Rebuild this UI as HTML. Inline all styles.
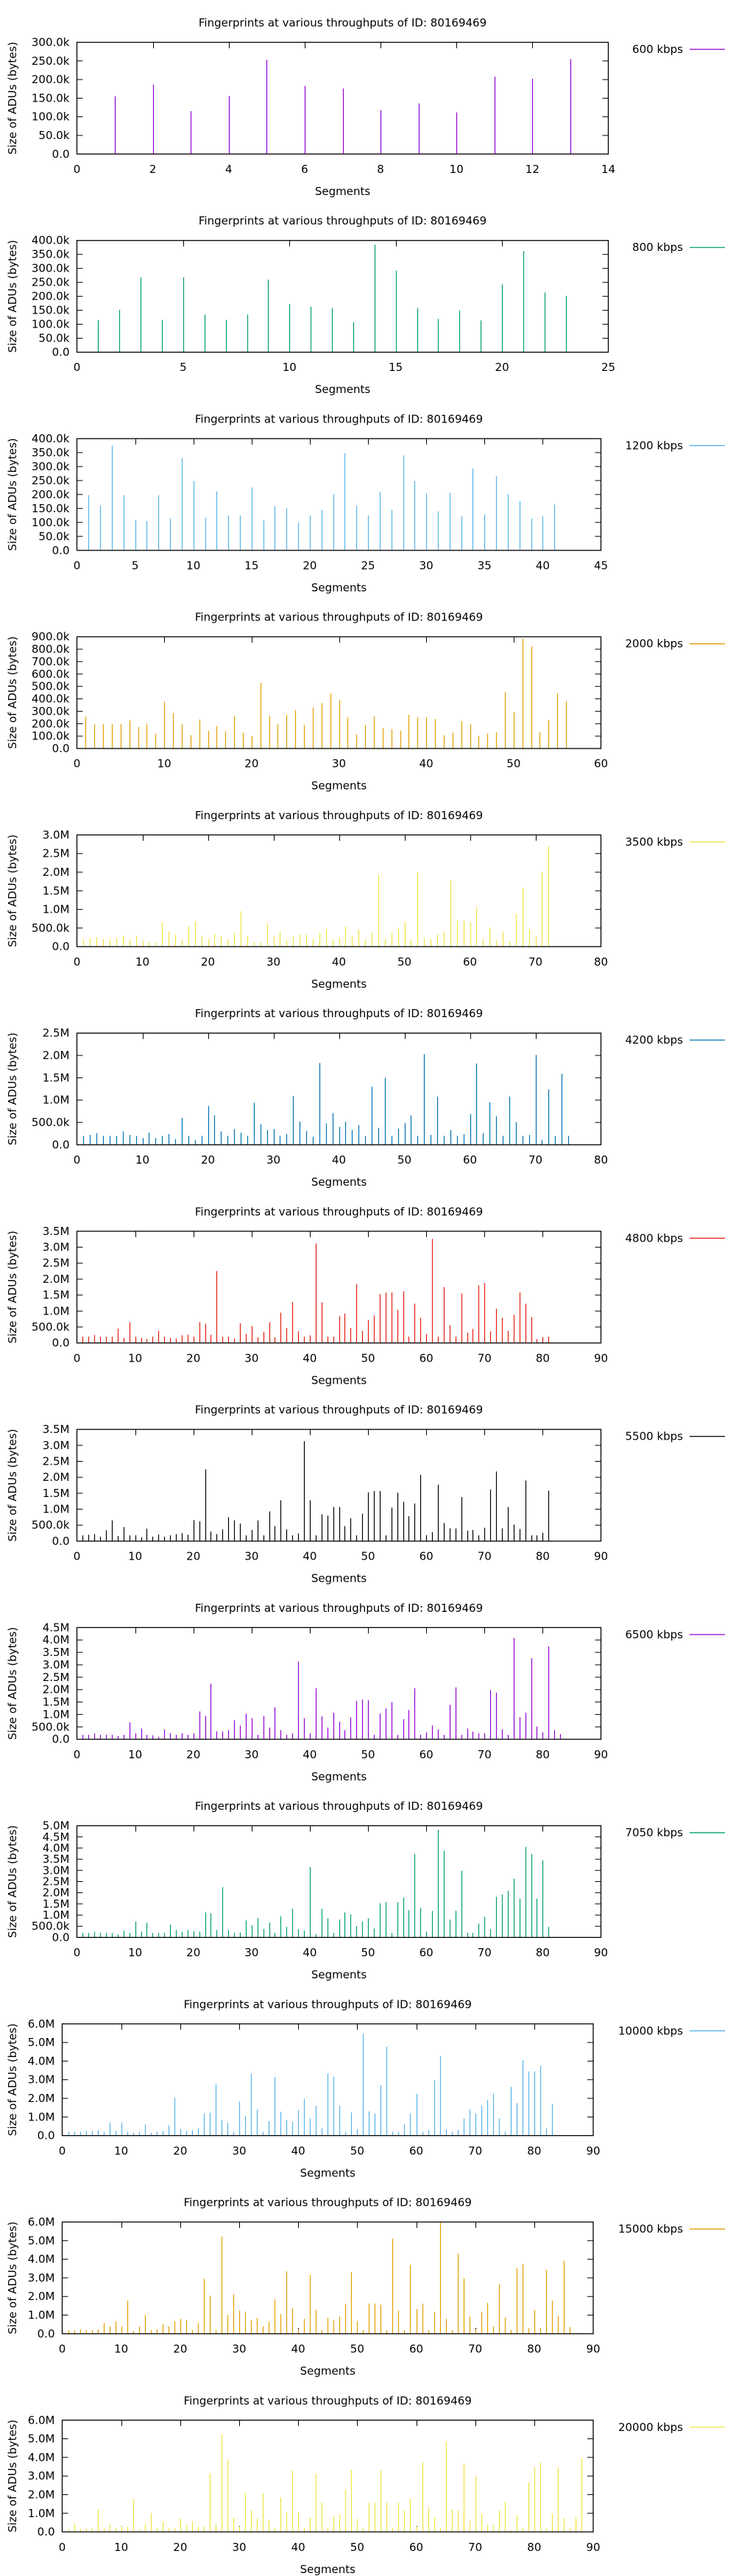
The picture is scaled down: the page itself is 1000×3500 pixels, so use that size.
<!DOCTYPE html>
<html><head><meta charset="utf-8">
<style>
html,body{margin:0;padding:0;background:#fff;}
svg{display:block;}
text{font-family:"DejaVu Sans","Liberation Sans",sans-serif;font-size:15px;fill:#000;}
</style></head>
<body>
<svg id="chart" width="1000" height="3500" xmlns="http://www.w3.org/2000/svg"></svg>
<script>
// ---- data (values in each panel's unit: k = thousands of bytes, M = millions) ----
const rates = ["600","800","1200","2000","3500","4200","4800","5500","6500","7050","10000","15000","20000"];
const colors = ["#9400d3","#009e73","#56b4e9","#e69f00","#f0e442","#0072b2","#e51e10","#000000","#9400d3","#009e73","#56b4e9","#e69f00","#f0e442"];
const xMaxes = [14,25,45,60,80,80,90,90,90,90,90,90,90];
const xSteps = [2,5,5,10,10,10,10,10,10,10,10,10,10];
const yMaxes = [300,400,400,900,3,2.5,3.5,3.5,4.5,5,6,6,6];
const ySteps = [50,50,50,100,0.5,0.5,0.5,0.5,0.5,0.5,1,1,1];
const units = ["k","k","k","k","M","M","M","M","M","M","M","M","M"];

const v600 = [155,187,115,156,253,183,176,118,136,112,208,202,255];
const v800 = [115,152,268,116,268,135,116,135,260,172,163,158,107,385,292,158,119,150,114,243,362,214,202];
const v1200 = [198,160,375,198,108,105,198,114,330,248,116,211,125,125,225,108,158,151,100,125,145,201,348,160,125,209,145,340,248,204,140,206,122,293,129,265,201,177,114,122,164];
const v2000 = [257,197,197,197,197,226,173,197,119,376,286,197,107,234,144,181,140,263,127,103,528,263,197,271,310,191,329,366,444,390,251,115,191,259,164,156,144,271,253,253,238,107,127,220,197,103,119,131,456,292,884,824,131,228,444,382];
const v3500 = [0.20,0.22,0.26,0.20,0.20,0.22,0.30,0.20,0.30,0.16,0.12,0.12,0.65,0.40,0.33,0.20,0.55,0.67,0.30,0.20,0.35,0.28,0.20,0.37,0.95,0.27,0.14,0.12,0.63,0.27,0.40,0.16,0.27,0.32,0.33,0.20,0.37,0.46,0.20,0.25,0.55,0.27,0.46,0.20,0.37,1.94,0.20,0.37,0.50,0.67,0.20,1.99,0.22,0.20,0.33,0.40,1.78,0.70,0.70,0.65,1.06,0.20,0.52,0.16,0.40,0.14,0.88,1.58,0.46,0.27,2.02,2.70];
const v4200 = [0.20,0.22,0.26,0.20,0.20,0.20,0.30,0.22,0.20,0.15,0.27,0.15,0.20,0.24,0.13,0.60,0.20,0.11,0.20,0.87,0.66,0.30,0.20,0.35,0.27,0.20,0.94,0.46,0.33,0.35,0.20,0.24,1.09,0.52,0.31,0.18,1.83,0.48,0.71,0.40,0.52,0.33,0.44,0.20,1.30,0.38,1.50,0.20,0.36,0.49,0.66,0.20,2.03,0.22,1.08,0.20,0.33,0.20,0.24,0.69,1.82,0.26,0.95,0.64,0.20,1.08,0.51,0.20,0.22,2.01,0.11,1.24,0.20,1.59,0.20];
const v4800 = [0.20,0.20,0.25,0.20,0.20,0.20,0.45,0.16,0.65,0.20,0.16,0.12,0.20,0.38,0.20,0.16,0.14,0.24,0.26,0.20,0.65,0.60,0.26,2.25,0.20,0.20,0.14,0.62,0.28,0.53,0.18,0.35,0.65,0.18,0.95,0.47,1.28,0.37,0.20,0.24,3.12,1.27,0.20,0.20,0.84,0.92,0.47,1.84,0.38,0.72,0.86,1.53,1.58,1.58,1.04,1.62,0.20,1.23,0.79,0.28,3.26,0.20,1.75,0.56,0.20,1.55,0.32,0.44,1.80,1.88,0.37,1.07,0.79,0.38,0.88,1.58,1.23,0.81,0.12,0.18,0.20];
const v5500 = [0.18,0.20,0.22,0.14,0.34,0.65,0.16,0.44,0.18,0.16,0.12,0.39,0.14,0.21,0.14,0.18,0.22,0.25,0.20,0.66,0.62,2.25,0.30,0.22,0.37,0.75,0.65,0.55,0.18,0.35,0.65,0.18,0.93,0.47,1.28,0.37,0.18,0.24,3.13,1.28,0.18,0.84,0.80,1.07,1.07,0.47,0.72,0.18,0.86,1.53,1.57,1.57,0.18,1.05,1.52,1.23,0.78,1.18,2.08,0.18,0.28,1.77,0.57,0.40,0.40,1.38,0.33,0.35,0.18,0.42,1.62,2.18,0.40,1.07,0.52,0.38,1.90,0.18,0.18,0.26,1.58];
const v6500 = [0.18,0.18,0.23,0.18,0.18,0.18,0.13,0.18,0.68,0.22,0.43,0.18,0.16,0.10,0.40,0.24,0.18,0.24,0.18,0.21,1.12,0.94,2.24,0.32,0.31,0.37,0.77,0.55,1.03,0.85,0.18,0.94,0.47,1.29,0.37,0.18,0.24,3.13,0.85,0.21,2.06,0.92,0.47,1.07,0.71,0.37,0.88,1.54,1.60,1.57,0.18,1.04,1.24,1.50,0.18,0.81,1.18,2.06,0.18,0.28,0.56,0.40,0.18,1.39,2.09,0.18,0.43,0.31,0.24,0.22,1.98,1.88,0.40,0.18,4.08,0.89,1.07,3.26,0.52,0.28,3.74,0.37,0.21];
const v7050 = [0.20,0.20,0.26,0.20,0.20,0.20,0.14,0.30,0.20,0.71,0.26,0.67,0.20,0.20,0.20,0.58,0.33,0.26,0.33,0.28,0.26,1.12,1.08,0.33,2.25,0.33,0.20,0.22,0.76,0.55,0.86,0.38,0.67,0.20,0.95,0.47,1.28,0.37,0.30,3.15,0.16,1.28,0.86,0.20,0.80,1.12,1.03,0.50,0.72,0.86,0.40,1.53,1.58,0.20,1.58,1.78,1.22,3.74,1.33,0.26,1.19,4.82,3.88,0.80,1.19,2.98,0.20,0.20,0.62,0.92,0.37,1.82,1.92,2.08,2.63,1.74,4.05,3.74,1.74,3.45,0.47];
const v10000 = [0.20,0.20,0.20,0.24,0.24,0.28,0.20,0.69,0.24,0.69,0.20,0.15,0.20,0.60,0.15,0.20,0.24,0.55,2.03,0.30,0.25,0.28,0.40,1.19,1.23,2.74,0.85,0.68,0.20,1.83,1.05,3.33,1.40,0.20,0.78,3.15,1.28,0.85,0.74,1.36,1.98,0.92,1.60,0.40,3.33,3.17,1.60,0.20,1.24,0.30,5.47,1.30,1.19,2.70,4.78,0.20,0.20,0.60,1.19,2.24,0.20,0.30,2.98,4.28,0.34,0.20,0.30,0.92,1.40,1.19,1.62,1.92,2.25,0.92,0.20,2.62,1.74,4.05,3.45,3.45,3.74,0.40,1.70];
const v15000 = [0.20,0.20,0.24,0.20,0.20,0.24,0.57,0.40,0.68,0.40,1.78,0.15,0.40,1.01,0.20,0.24,0.52,0.40,0.68,0.80,0.75,0.20,0.57,2.95,2.05,0.20,5.22,1.01,2.13,1.24,1.19,0.72,0.85,0.40,0.64,1.84,1.05,3.35,1.38,0.24,0.80,3.15,1.28,0.20,0.85,0.72,0.92,1.62,3.30,0.68,0.20,1.62,1.62,1.56,0.20,5.10,1.24,0.20,3.70,1.33,1.62,0.20,1.19,6.00,0.80,0.20,4.30,2.98,0.92,0.24,1.19,1.66,0.40,2.65,0.88,0.20,3.52,3.74,0.30,1.28,0.30,3.43,1.78,0.96,3.92,0.36];
const v20000 = [0.15,0.45,0.15,0.20,0.20,1.22,0.18,0.38,0.22,0.30,0.28,1.78,0.12,0.42,1.02,0.20,0.55,0.20,0.20,0.72,0.38,0.58,0.28,0.30,3.15,0.40,5.22,3.90,0.78,0.28,2.10,1.17,0.70,2.08,0.65,0.20,1.85,1.05,3.32,1.05,0.20,0.78,3.12,1.57,0.20,0.85,0.92,2.30,3.35,0.70,0.20,1.57,1.57,3.32,1.57,0.20,1.57,1.20,1.78,0.28,3.72,1.33,0.78,0.20,4.82,1.22,1.17,3.68,0.60,3.00,0.95,0.38,0.38,1.17,1.62,0.08,0.90,0.20,2.65,3.48,3.75,0.20,0.98,3.45,0.75,0.20,0.78,3.95];

const series = [v600,v800,v1200,v2000,v3500,v4200,v4800,v5500,v6500,v7050,v10000,v15000,v20000];

// ---- layout ----
const NS = "http://www.w3.org/2000/svg";
const svg = document.getElementById("chart");
const PANEL_H = 3500/13;
const lefts = [104.5,104.5,104.5,104.5,104.5,104.5,104.5,104.5,104.5,104.5,84.5,84.5,84.5];
const rights = [826.5,826.5,816.5,816.5,816.5,816.5,816.5,816.5,816.5,816.5,806,806,806];
const TOP = 57.5, BOTTOM = 209.3, TICK = 8;

function mk(tag, attrs, parent){
  const e = document.createElementNS(NS, tag);
  for (const k in attrs) e.setAttribute(k, attrs[k]);
  parent.appendChild(e);
  return e;
}
function fmtTick(v, unit){
  if (v === 0) return "0.0";
  if (unit === "k") return v.toFixed(1) + "k";
  if (v < 1) return (v*1000).toFixed(1) + "k";
  return v.toFixed(1) + "M";
}

for (let p = 0; p < series.length; p++){
  const g = mk("g", {transform:"translate(0," + (p*PANEL_H).toFixed(2) + ")"}, svg);
  
  
  const L = lefts[p], R = rights[p];
  const xs = v => L + (v / xMaxes[p]) * (R - L);
  const ys = v => BOTTOM - (v / yMaxes[p]) * (BOTTOM - TOP);
  const cx = (L + R) / 2;

  const title = mk("text", {x:cx, y:36, "text-anchor":"middle"}, g);
  title.textContent = "Fingerprints at various throughputs of ID: 80169469";
  
  

  const ylab = mk("text", {x:0, y:0, "text-anchor":"middle", transform:"translate(22," + ((TOP+BOTTOM)/2) + ") rotate(-90)"}, g);
  ylab.textContent = "Size of ADUs (bytes)";
  
  

  const xlab = mk("text", {x:cx, y:265, "text-anchor":"middle"}, g);
  xlab.textContent = "Segments";
  
  

  // y ticks
  const nY = Math.round(yMaxes[p] / ySteps[p]);
  for (let i = 0; i <= nY; i++){
    const v = i * ySteps[p];
    const y = ys(v);
    const t = mk("text", {x:L-10, y:y+5, "text-anchor":"end"}, g);
    t.textContent = fmtTick(v, units[p]);
    
    
    if (i > 0 && i < nY){
      mk("line", {x1:L, x2:L+TICK, y1:y, y2:y, stroke:"#000", "stroke-width":1}, g);
      mk("line", {x1:R, x2:R-TICK, y1:y, y2:y, stroke:"#000", "stroke-width":1}, g);
    }
  }
  // x ticks
  const nX = Math.round(xMaxes[p] / xSteps[p]);
  for (let i = 0; i <= nX; i++){
    const v = i * xSteps[p];
    const x = Math.round(xs(v)) + 0.5;
    const t = mk("text", {x:xs(v), y:235, "text-anchor":"middle"}, g);
    t.textContent = String(v);
    
    
    if (i > 0 && i < nX){
      mk("line", {x1:x, x2:x, y1:BOTTOM, y2:BOTTOM-TICK, stroke:"#000", "stroke-width":1}, g);
      mk("line", {x1:x, x2:x, y1:TOP, y2:TOP+TICK, stroke:"#000", "stroke-width":1}, g);
    }
  }
  // bars (impulses)
  const vals = series[p];
  for (let i = 0; i < vals.length; i++){
    const x = Math.round(xs(i+1)) + 0.5;
    const bar = mk("line", {x1:x, x2:x, y1:BOTTOM, y2:ys(vals[i]), stroke:colors[p], "stroke-width":1.2}, g);
    
    
  }
  // frame
  const frame = mk("rect", {x:L, y:TOP, width:R-L, height:BOTTOM-TOP, fill:"none", stroke:"#000", "stroke-width":1.3}, g);
  
  

  // legend
  const lt = mk("text", {x:928, y:72, "text-anchor":"end"}, g);
  lt.textContent = rates[p] + " kbps";
  
  
  const ll = mk("line", {x1:937, x2:985, y1:67, y2:67, stroke:colors[p], "stroke-width":1.3}, g);
  
  
}
</script>
</body></html>
